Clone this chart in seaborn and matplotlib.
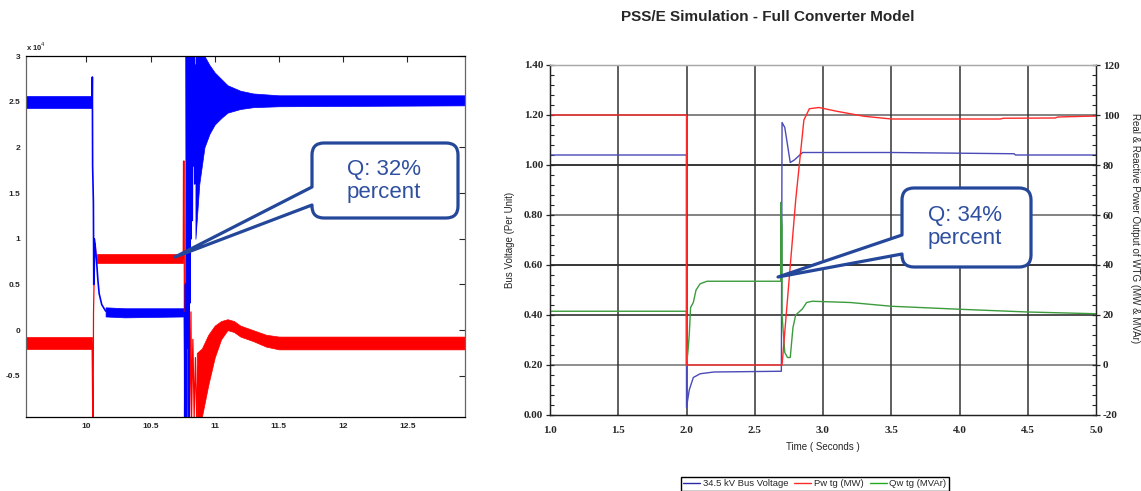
import matplotlib
matplotlib.use("Agg")
import matplotlib.pyplot as plt
from matplotlib.lines import Line2D
from matplotlib.patches import PathPatch
from matplotlib.path import Path
from matplotlib.ticker import MultipleLocator
import pandas as pd
import seaborn as sns

## DATOS PANEL IZQUIERDO (escala x 10^4)

azul_x = [10.045, 10.047, 10.049, 10.055, 10.058, 10.062, 10.07, 10.08, 10.09, 10.1, 10.12, 10.15,
          10.2, 10.765, 10.77, 10.773, 10.776, 10.78, 10.784, 10.788, 10.792, 10.796, 10.8, 10.804,
          10.808, 10.812, 10.816, 10.82, 10.825, 10.83, 10.835, 10.84, 10.845, 10.85]
azul_y = [2.5, 2.77, 1.8, 1.4, 0.5, 1.0, 0.9, 0.75, 0.55, 0.4, 0.28, 0.21,
          0.19, 0.19, -0.95, 0.5, -0.95, 3.05, 1.5, 3.05, -0.2, 3.05, -0.95, 3.05,
          0.3, 3.05, 1.0, 3.05, 1.2, 3.05, 1.8, 3.05, 1.6, 2.9]
# bandas de ruido/oscilación azul: (x, inferior, superior)
azul_b1_x = [9.53, 10.045]
azul_b1_lo = [2.43, 2.43]
azul_b1_hi = [2.56, 2.56]
azul_b2_x = [10.15, 10.3, 10.765]
azul_b2_lo = [0.15, 0.14, 0.15]
azul_b2_hi = [0.25, 0.24, 0.24]
azul_b3_x = [10.85, 10.88, 10.92, 10.96, 11.0, 11.05, 11.1, 11.2, 11.3, 11.5, 12.95]
azul_b3_lo = [1.0, 1.6, 2.0, 2.15, 2.25, 2.32, 2.38, 2.42, 2.44, 2.45, 2.46]
azul_b3_hi = [3.05, 3.05, 3.0, 2.9, 2.82, 2.75, 2.68, 2.62, 2.59, 2.57, 2.57]

rojo_x = [10.045, 10.05, 10.053, 10.056, 10.06, 10.065, 10.07, 10.075, 10.08, 10.755, 10.757,
          10.762, 10.765, 10.77, 10.775, 10.785, 10.79, 10.8, 10.805, 10.815, 10.82, 10.83,
          10.84, 10.85, 10.86, 10.87, 10.88]
rojo_y = [-0.14, -0.95, -0.95, 0.2, 0.5, 0.75, 0.95, 0.82, 0.78, 0.78, 1.85,
          1.85, -0.95, 0.3, -0.95, -0.2, -0.95, 0.4, -0.95, 0.2, -0.95, -0.1,
          -0.95, -0.3, -0.95, -0.4, -0.95]
rojo_b1_x = [9.53, 10.045]
rojo_b1_lo = [-0.21, -0.21]
rojo_b1_hi = [-0.07, -0.07]
rojo_b2_x = [10.08, 10.755]
rojo_b2_lo = [0.73, 0.73]
rojo_b2_hi = [0.83, 0.83]
rojo_b3_x = [10.86, 10.9, 10.95, 11.0, 11.05, 11.1, 11.15, 11.2, 11.3, 11.4, 11.5, 12.95]
rojo_b3_lo = [-0.95, -0.95, -0.6, -0.3, -0.1, 0.0, -0.02, -0.07, -0.12, -0.18, -0.21, -0.21]
rojo_b3_hi = [-0.25, -0.2, -0.05, 0.05, 0.1, 0.12, 0.1, 0.05, 0.0, -0.05, -0.07, -0.07]

izq_xticks = [10, 10.5, 11, 11.5, 12, 12.5]
izq_yticks = [-0.5, 0, 0.5, 1, 1.5, 2, 2.5, 3]
izq_ylabels = ["-0.5", "0", "0.5", "1", "1.5", "2", "2.5", "3"]

## DATOS PANEL DERECHO (PSS/E)

t_volt = [1.0, 2.0, 2.0, 2.02, 2.05, 2.1, 2.2, 2.695, 2.7, 2.72, 2.76, 2.79, 2.85, 3.5, 4.4, 4.41, 5.0]
volt = [1.04, 1.04, 0.03, 0.10, 0.15, 0.165, 0.172, 0.175, 1.17, 1.15, 1.01, 1.02, 1.05, 1.05, 1.045, 1.04, 1.04]

t_pw = [1.0, 2.0, 2.0, 2.70, 2.80, 2.86, 2.9, 2.97, 3.1, 3.3, 3.5, 4.3, 4.32, 4.7, 4.72, 5.0]
pw = [100, 100, 0, 0, 66, 98, 102.5, 103, 101.5, 99.5, 98.4, 98.4, 98.7, 98.8, 99.2, 99.6]

t_qw = [1.0, 2.0, 2.0, 2.01, 2.02, 2.03, 2.05, 2.07, 2.1, 2.15, 2.69, 2.69, 2.7, 2.7, 2.72, 2.74,
        2.76, 2.78, 2.8, 2.85, 2.88, 2.92, 3.2, 3.5, 4.0, 4.5, 5.0]
qw = [21.5, 21.5, 0, 5, 12, 23, 25, 30, 32.5, 33.5, 33.5, 65, 55, 20, 5, 3,
      3, 15, 20, 22.5, 25, 25.5, 25, 23.5, 22.3, 21.2, 20.5]

der_ylabels = ["0.00", "0.20", "0.40", "0.60", "0.80", "1.00", "1.20", "1.40"]
der_y2labels = ["-20", "0", "20", "40", "60", "80", "100", "120"]
leyenda = ["34.5 kV Bus Voltage", "Pw tg (MW)", "Qw tg (MVAr)"]

W, H = 1141, 491
AZUL_Q = "#24479a"

sns.set_style("white")
plt.rcParams["font.family"] = ["Liberation Sans", "DejaVu Sans"]
plt.rcParams["axes.unicode_minus"] = False

fig = plt.figure(figsize=(W / 100, H / 100), dpi=100)


def px(x, y):
    return (x / W, 1 - y / H)


## PANEL IZQUIERDO

ax1 = fig.add_axes([26 / W, 1 - 417 / H, 439 / W, 361 / H])
for bx, lo, hi in [(rojo_b1_x, rojo_b1_lo, rojo_b1_hi), (rojo_b2_x, rojo_b2_lo, rojo_b2_hi),
                   (rojo_b3_x, rojo_b3_lo, rojo_b3_hi)]:
    ax1.fill_between(bx, lo, hi, color="#ff0000", lw=0.5)
sns.lineplot(x=rojo_x, y=rojo_y, ax=ax1, color="#ff0000", lw=0.9, estimator=None, sort=False)
for bx, lo, hi in [(azul_b1_x, azul_b1_lo, azul_b1_hi), (azul_b2_x, azul_b2_lo, azul_b2_hi),
                   (azul_b3_x, azul_b3_lo, azul_b3_hi)]:
    ax1.fill_between(bx, lo, hi, color="#0000ff", lw=0.5)
sns.lineplot(x=azul_x, y=azul_y, ax=ax1, color="#0000ff", lw=1.2, estimator=None, sort=False)

ax1.set_xlim(9.53, 12.95)
ax1.set_ylim(-0.95, 3.0)
ax1.set_xticks(izq_xticks)
ax1.set_xticklabels([f"{v:g}" for v in izq_xticks])
ax1.set_yticks(izq_yticks)
ax1.set_yticklabels(izq_ylabels)
ax1.tick_params(direction="in", length=4, width=0.8, top=True, right=True, labelsize=6, pad=4)
for lab in ax1.get_xticklabels() + ax1.get_yticklabels():
    lab.set_fontweight("bold")
for sp in ax1.spines.values():
    sp.set_color("black")
    sp.set_linewidth(0.9)
ax1.spines["left"].set_color("#666666")
ax1.spines["right"].set_color("#666666")
ax1.text(0.0, 1.008, r"x 10$^{4}$", transform=ax1.transAxes, fontsize=5.5,
         fontweight="bold", va="bottom", ha="left")

## PANEL DERECHO

ax = fig.add_axes([550 / W, 1 - 415 / H, 546 / W, 350 / H])
ax.set_xlim(1.0, 5.0)
ax.set_ylim(0.0, 1.4)
colores_h = {0.2: "#707070", 0.4: "#202020", 0.6: "#000000", 0.8: "#606060", 1.0: "#000000", 1.2: "#606060"}
for yv, c in colores_h.items():
    ax.axhline(yv, color=c, lw=1.1, zorder=0)
for xv in [1.5, 2.0, 2.5, 3.0, 3.5, 4.0, 4.5]:
    ax.axvline(xv, color="#333333", lw=1.1, zorder=0)

sns.lineplot(x=t_volt, y=volt, ax=ax, color="#4a4ab8", lw=1.0, estimator=None, sort=False)
ax.set_xticks([1.0, 1.5, 2.0, 2.5, 3.0, 3.5, 4.0, 4.5, 5.0])
ax.set_xticklabels([f"{v:.1f}" for v in ax.get_xticks()])
ax.set_yticks([0, 0.2, 0.4, 0.6, 0.8, 1.0, 1.2, 1.4])
ax.set_yticklabels(der_ylabels)
ax.xaxis.set_minor_locator(MultipleLocator(0.1))
ax.yaxis.set_minor_locator(MultipleLocator(0.04))

ax2 = ax.twinx()
ax2.set_ylim(-20, 120)
sns.lineplot(x=t_qw, y=qw, ax=ax2, color="#3c9c3c", lw=1.0, estimator=None, sort=False)
sns.lineplot(x=t_pw, y=pw, ax=ax2, color="#ff2a2a", lw=1.0, estimator=None, sort=False)
ax2.set_yticks([-20, 0, 20, 40, 60, 80, 100, 120])
ax2.set_yticklabels(der_y2labels)
ax2.yaxis.set_minor_locator(MultipleLocator(4))
ax2.set_ylabel("")

for a in (ax, ax2):
    a.tick_params(which="major", direction="inout", length=6, width=0.9, labelsize=8, pad=2)
    a.tick_params(which="minor", direction="in", length=3, width=0.8)
    for lab in a.get_xticklabels() + a.get_yticklabels():
        lab.set_fontfamily("Liberation Serif")
        lab.set_fontweight("bold")
    for sp in a.spines.values():
        sp.set_color("#222222")
        sp.set_linewidth(0.9)
    a.spines["top"].set_color("#aaaaaa")
ax.tick_params(axis="x", pad=5)
ax.set_xlabel("")
ax.set_ylabel("")

fig.text(*px(768, 17), "PSS/E Simulation - Full Converter Model", fontsize=11,
         fontweight="bold", ha="center", va="center")
fig.text(*px(510, 240), "Bus Voltage (Per Unit)", fontsize=7, rotation=90, ha="center", va="center")
fig.text(*px(1135, 228), "Real & Reactive Power Output of WTG (MW & MVAr)", fontsize=7,
         rotation=270, ha="center", va="center")
fig.text(*px(823, 447), "Time ( Seconds )", fontsize=7, ha="center", va="center")

handles = [Line2D([], [], color=c, lw=1.0) for c in ["#2a2aa8", "#ff2a2a", "#22aa22"]]
fig.legend(handles, leyenda, loc="center", bbox_to_anchor=px(815, 484), ncol=3, fontsize=6.8,
           frameon=True, fancybox=False, edgecolor="black", framealpha=1, handlelength=1.8,
           handletextpad=0.3, columnspacing=0.6, borderpad=0.25)


## GLOBOS "Q: xx% percent"

def globo(caja, base, punta, texto, centro, r=12):
    x0, y0, x1, y1 = caja
    ya, yb = base
    tx, ty = punta
    verts = [(x0 + r, y0), (x1 - r, y0), (x1, y0), (x1, y0 + r), (x1, y1 - r), (x1, y1),
             (x1 - r, y1), (x0 + r, y1), (x0, y1), (x0, y1 - r), (x0, yb), (tx, ty), (x0, ya),
             (x0, y0 + r), (x0, y0), (x0 + r, y0), (x0 + r, y0)]
    codes = [Path.MOVETO, Path.LINETO, Path.CURVE3, Path.CURVE3, Path.LINETO, Path.CURVE3,
             Path.CURVE3, Path.LINETO, Path.CURVE3, Path.CURVE3, Path.LINETO, Path.LINETO,
             Path.LINETO, Path.LINETO, Path.CURVE3, Path.CURVE3, Path.CLOSEPOLY]
    camino = Path([px(*v) for v in verts], codes)
    fig.add_artist(PathPatch(camino, transform=fig.transFigure, facecolor="white",
                             edgecolor=AZUL_Q, lw=2.3, joinstyle="round", zorder=10))
    fig.text(*px(*centro), texto, fontsize=16, color="#2f4f9f", ha="center", va="center",
             linespacing=1.15, zorder=11)


globo((312, 143, 458, 218), (187, 205), (175, 257), "Q: 32%\npercent", (384, 181))
globo((902, 188, 1031, 267), (235, 254), (778, 277), "Q: 34%\npercent", (965, 227))

fig.savefig("out.png", dpi=100)
